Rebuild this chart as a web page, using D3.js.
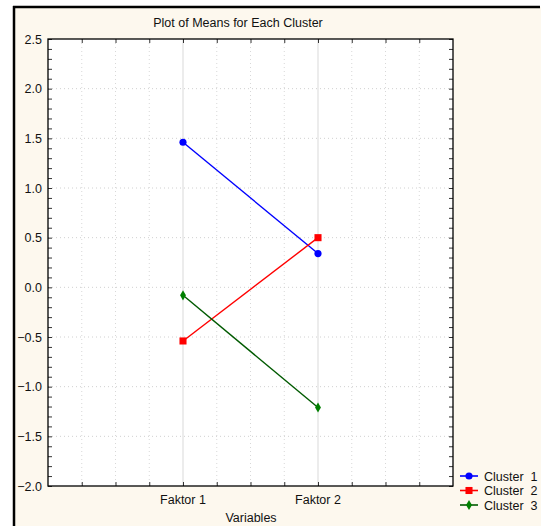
<!DOCTYPE html>
<html>
<head>
<meta charset="utf-8">
<script src="https://cdn.jsdelivr.net/npm/d3@7"></script>
<style>
  body { margin: 0; background: #fff; }
  svg { display: block; font-family: "Liberation Sans", Arial, sans-serif; }
</style>
</head>
<body>
<div id="chart"></div>
<script>
const variables = ['Faktor 1', 'Faktor 2'];
const clusterNames = ['Cluster  1', 'Cluster  2', 'Cluster  3'];
const cluster1 = [1.46, 0.34];
const cluster2 = [-0.54, 0.50];
const cluster3 = [-0.08, -1.21];
const yTicks = [-2.0, -1.5, -1.0, -0.5, 0.0, 0.5, 1.0, 1.5, 2.0, 2.5];

const W = 541, H = 526;
const plot = { left: 48, top: 39, right: 453, bottom: 486 };

const series = [
  { name: clusterNames[0], values: cluster1, line: '#0000ff', fill: '#0000ff', shape: d3.symbolCircle, size: 40 },
  { name: clusterNames[1], values: cluster2, line: '#ff0000', fill: '#ff0000', shape: d3.symbolSquare, size: 50 },
  { name: clusterNames[2], values: cluster3, line: '#005a00', fill: '#008000', shape: d3.symbolDiamond, size: 30 }
];

const svg = d3.select('#chart').append('svg')
  .attr('width', W)
  .attr('height', H);

// cream panel with black frame on top/left
svg.append('rect').attr('x', 14).attr('y', 7).attr('width', W).attr('height', H).attr('fill', '#fdf8ee');
svg.append('line').attr('x1', 14).attr('x2', 14).attr('y1', 6).attr('y2', H).attr('stroke', '#000').attr('stroke-width', 2.5);
svg.append('line').attr('x1', 13).attr('x2', 540).attr('y1', 7).attr('y2', 7).attr('stroke', '#000').attr('stroke-width', 2.5);

const x = d3.scaleLinear().domain([0, variables.length + 1]).range([plot.left, plot.right]);
const y = d3.scaleLinear().domain([-2, 2.5]).range([plot.bottom, plot.top]);

svg.append('rect')
  .attr('x', plot.left).attr('y', plot.top)
  .attr('width', plot.right - plot.left).attr('height', plot.bottom - plot.top)
  .attr('fill', '#fff');

const grid = svg.append('g');
// minor vertical dotted lines
grid.selectAll('.vminor')
  .data(d3.range(0.25, variables.length + 1, 0.25).filter(d => d % 1 !== 0))
  .enter().append('line')
  .attr('x1', d => x(d)).attr('x2', d => x(d))
  .attr('y1', plot.top).attr('y2', plot.bottom)
  .attr('stroke', '#d8d8d8').attr('stroke-dasharray', '1,3');
// major vertical lines at variables
grid.selectAll('.vmajor')
  .data(variables)
  .enter().append('line')
  .attr('x1', (d, i) => x(i + 1)).attr('x2', (d, i) => x(i + 1))
  .attr('y1', plot.top).attr('y2', plot.bottom)
  .attr('stroke', '#ececec').attr('stroke-width', 2);
// horizontal dotted lines
grid.selectAll('.h')
  .data(yTicks.slice(1, -1))
  .enter().append('line')
  .attr('x1', plot.left).attr('x2', plot.right)
  .attr('y1', d => y(d)).attr('y2', d => y(d))
  .attr('stroke', '#d0d0d0').attr('stroke-dasharray', '1,3');

// axes
const minorY = d3.range(-20, 26).map(d => d / 10);
const minorX = d3.range(1, (variables.length + 1) * 4).map(d => d / 4);
svg.append('g').attr('transform', `translate(${plot.left},0)`)
  .call(d3.axisLeft(y).tickValues(minorY).tickSize(-4).tickFormat(''))
  .call(g => g.select('.domain').remove());
svg.append('g').attr('transform', `translate(${plot.right},0)`)
  .call(d3.axisRight(y).tickValues(minorY).tickSize(-4).tickFormat(''))
  .call(g => g.select('.domain').remove());
svg.append('g').attr('transform', `translate(0,${plot.bottom})`)
  .call(d3.axisBottom(x).tickValues(minorX).tickSize(-4).tickFormat(''))
  .call(g => g.select('.domain').remove());
svg.append('g').attr('transform', `translate(0,${plot.top})`)
  .call(d3.axisTop(x).tickValues(minorX).tickSize(-4).tickFormat(''))
  .call(g => g.select('.domain').remove());
svg.selectAll('.tick line').attr('stroke', '#333');

svg.append('rect')
  .attr('x', plot.left).attr('y', plot.top)
  .attr('width', plot.right - plot.left).attr('height', plot.bottom - plot.top)
  .attr('fill', 'none').attr('stroke', '#000').attr('stroke-width', 1.3);

// tick labels
svg.append('g').selectAll('text')
  .data(yTicks)
  .enter().append('text')
  .attr('x', 42).attr('y', d => y(d) + 4.5)
  .attr('text-anchor', 'end')
  .attr('font-size', 12.5).attr('fill', '#111')
  .text(d => d3.format('.1f')(d));
svg.append('g').selectAll('text')
  .data(variables)
  .enter().append('text')
  .attr('x', (d, i) => x(i + 1)).attr('y', plot.bottom + 18)
  .attr('text-anchor', 'middle')
  .attr('font-size', 12.5).attr('fill', '#111')
  .text(d => d);

svg.append('text')
  .attr('x', 251).attr('y', 522)
  .attr('text-anchor', 'middle').attr('font-size', 12.5).attr('fill', '#111')
  .text('Variables');
svg.append('text')
  .attr('x', 238).attr('y', 27)
  .attr('text-anchor', 'middle').attr('font-size', 12.5).attr('fill', '#111')
  .text('Plot of Means for Each Cluster');

// series
const line = d3.line().x((d, i) => x(i + 1)).y(d => y(d));
series.forEach(s => {
  svg.append('path')
    .attr('d', line(s.values))
    .attr('fill', 'none').attr('stroke', s.line).attr('stroke-width', 1.4);
  svg.selectAll(null)
    .data(s.values)
    .enter().append('path')
    .attr('transform', (d, i) => `translate(${x(i + 1)},${y(d)})`)
    .attr('d', d3.symbol().type(s.shape).size(s.size))
    .attr('fill', s.fill);
});

// legend
const legend = svg.append('g').attr('transform', 'translate(460,476)');
series.forEach((s, i) => {
  const g = legend.append('g').attr('transform', `translate(0,${i * 14.5})`);
  g.append('line').attr('x1', 0).attr('x2', 18).attr('y1', 0).attr('y2', 0)
    .attr('stroke', s.line).attr('stroke-width', 1.6);
  g.append('path').attr('transform', 'translate(9,0)')
    .attr('d', d3.symbol().type(s.shape).size(s.size)).attr('fill', s.fill);
  g.append('text').attr('x', 24).attr('y', 4.5)
    .attr('font-size', 12.5).attr('fill', '#111')
    .attr('xml:space', 'preserve').style('white-space', 'pre')
    .text(s.name);
});
</script>
</body>
</html>
